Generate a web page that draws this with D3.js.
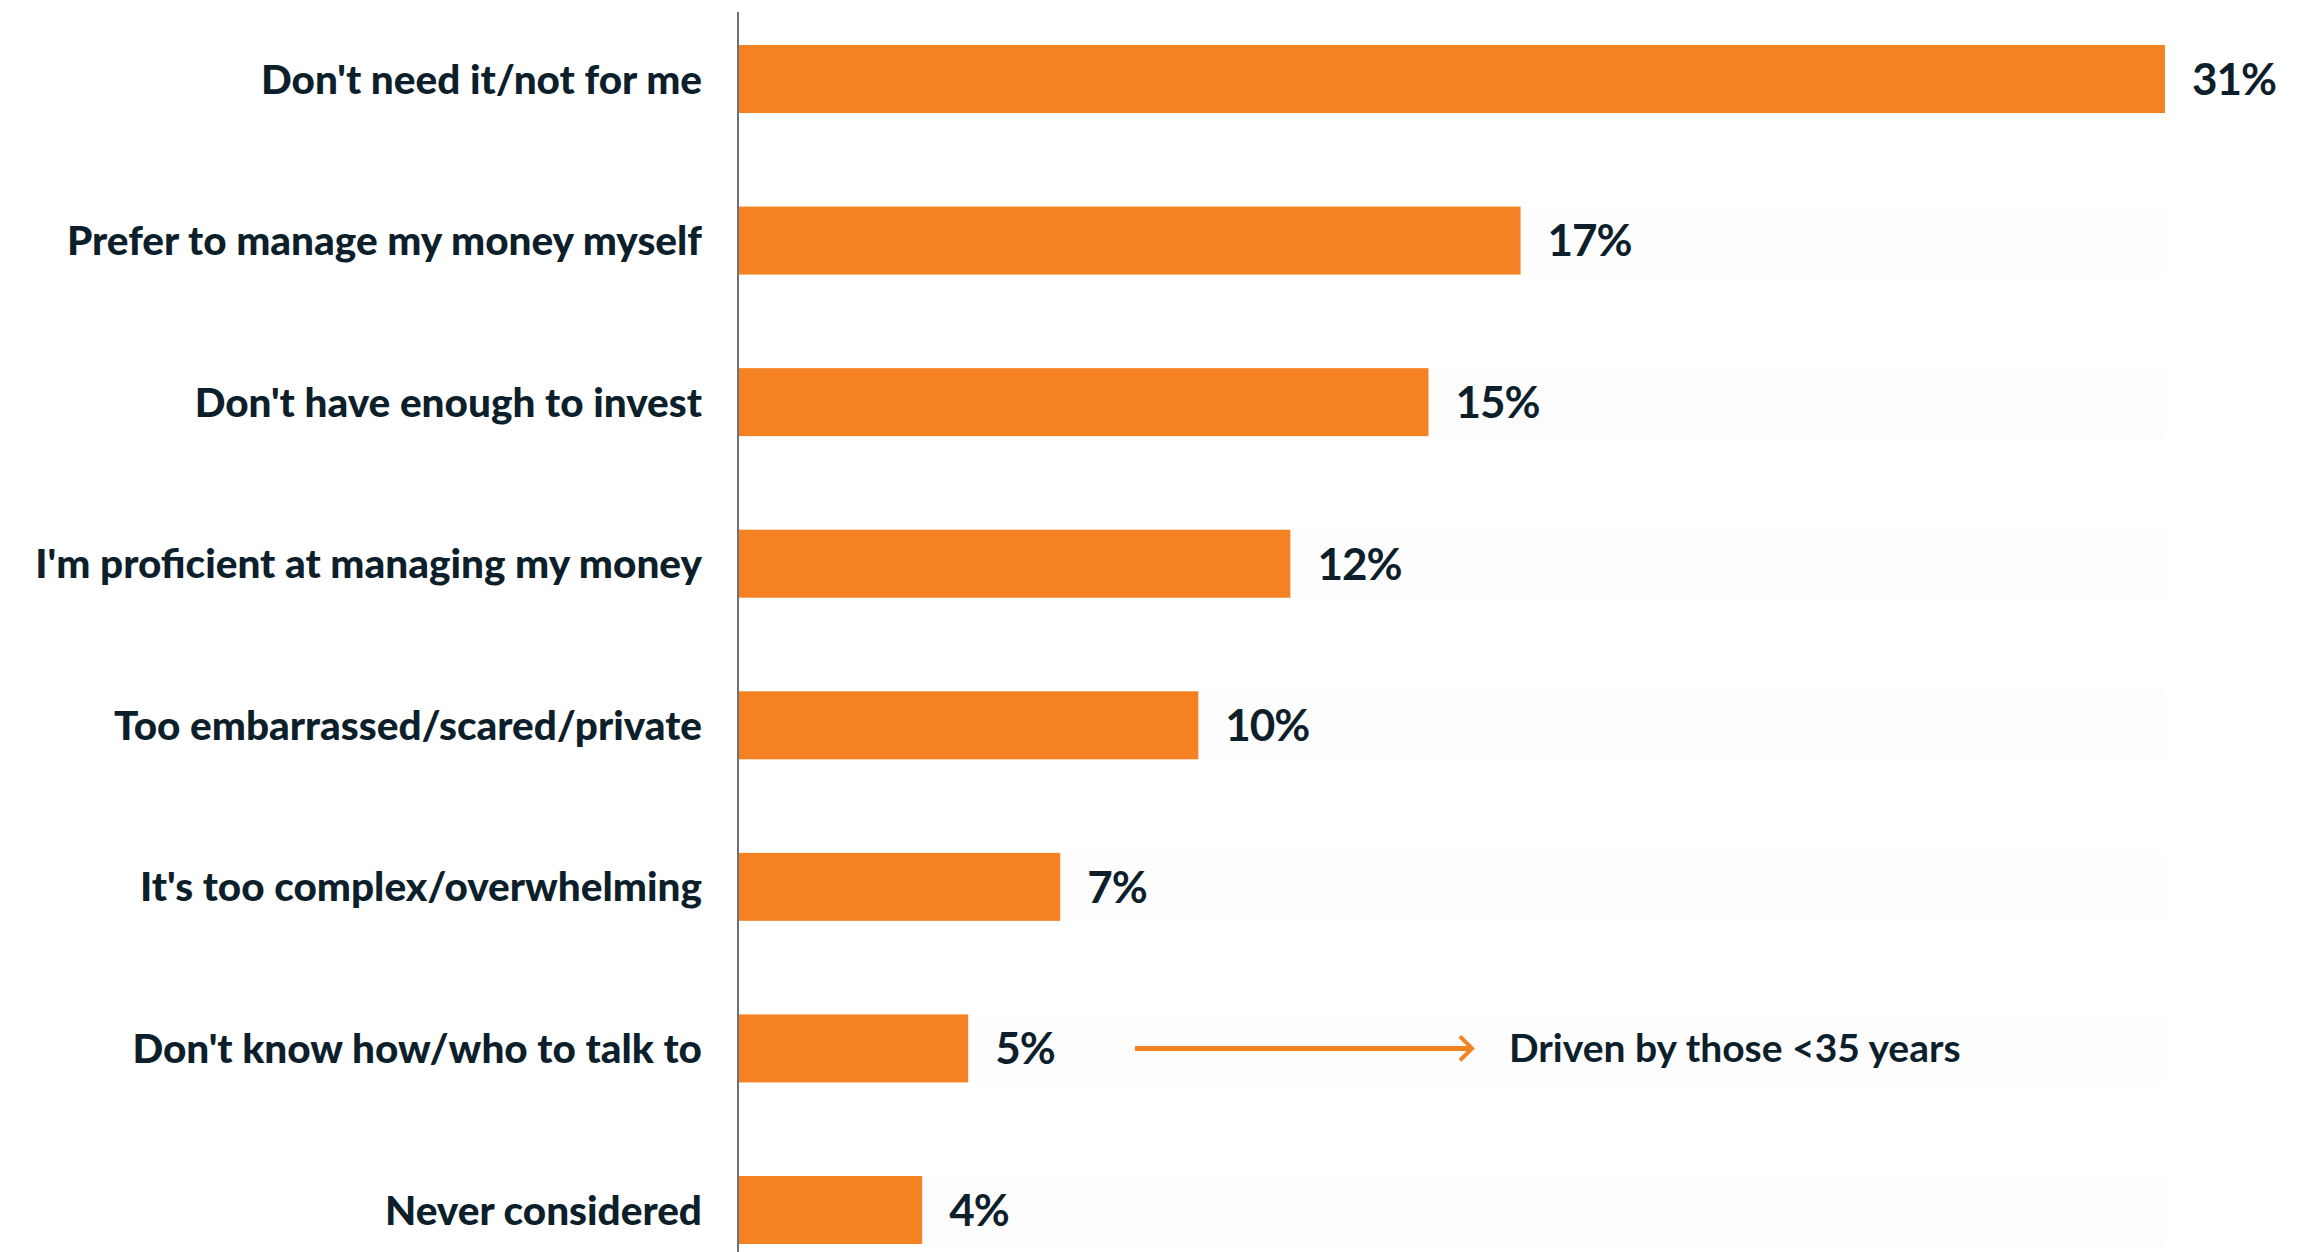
<!DOCTYPE html>
<html>
<head>
<meta charset="utf-8">
<script src="https://cdn.jsdelivr.net/npm/d3@7"></script>
<style>
  html, body { margin: 0; padding: 0; background: #ffffff; }
  svg text { font-family: Lato, "Open Sans", sans-serif; }
</style>
</head>
<body>
<div id="chart"></div>
<script>
// Data
const categories = [
  "Don't need it/not for me",
  "Prefer to manage my money myself",
  "Don't have enough to invest",
  "I'm proficient at managing my money",
  "Too embarrassed/scared/private",
  "It's too complex/overwhelming",
  "Don't know how/who to talk to",
  "Never considered"
];
const values = [31, 17, 15, 12, 10, 7, 5, 4];
const noteCategory = "Don't know how/who to talk to";
const noteText = "Driven by those <35 years";

const width = 2302;
const height = 1252;
const axisX = 738;
const barEnd = 2165;
const barH = 68;

const data = categories.map((c, i) => ({ cat: c, value: values[i] }));

const svg = d3.select("#chart")
  .append("svg")
  .attr("width", width)
  .attr("height", height);

// Scales
const xscale = d3.scaleLinear().domain([0, d3.max(values)]).range([axisX, barEnd]);
const yscale = d3.scalePoint().domain(categories).range([79, 1210]);

// background tracks (barely visible)
svg.selectAll("rect.track")
  .data(data)
  .join("rect")
  .attr("class", "track")
  .attr("x", axisX)
  .attr("y", d => yscale(d.cat) - barH / 2)
  .attr("width", barEnd - axisX)
  .attr("height", barH)
  .attr("fill", "#fdfdfd");

// bars
svg.selectAll("rect.bar")
  .data(data)
  .join("rect")
  .attr("class", "bar")
  .attr("x", axisX)
  .attr("y", d => yscale(d.cat) - barH / 2)
  .attr("width", d => xscale(d.value) - axisX)
  .attr("height", barH)
  .attr("fill", "#f48222");

// category labels
svg.selectAll("text.cat")
  .data(data)
  .join("text")
  .attr("class", "cat")
  .attr("x", axisX - 36)
  .attr("y", d => yscale(d.cat))
  .attr("dy", "0.36em")
  .attr("text-anchor", "end")
  .attr("fill", "#0e1f2c")
  .attr("font-size", 40.5)
  .attr("font-weight", 900)
  .text(d => d.cat);

// value labels
svg.selectAll("text.val")
  .data(data)
  .join("text")
  .attr("class", "val")
  .attr("x", d => xscale(d.value) + 27)
  .attr("y", d => yscale(d.cat))
  .attr("dy", "0.36em")
  .attr("fill", "#0e1f2c")
  .attr("font-size", 44)
  .attr("font-weight", 700)
  .attr("letter-spacing", -1)
  .text(d => d.value + "%");

// axis line
svg.append("line")
  .attr("x1", axisX).attr("x2", axisX)
  .attr("y1", 12).attr("y2", height)
  .attr("stroke", "#6d7279")
  .attr("stroke-width", 2);

// annotation arrow + note
const ny = yscale(noteCategory);
svg.append("line")
  .attr("x1", 1135).attr("x2", 1469)
  .attr("y1", ny).attr("y2", ny)
  .attr("stroke", "#f48222")
  .attr("stroke-width", 5);
svg.append("path")
  .attr("d", `M1460,${ny - 12} L1472,${ny} L1460,${ny + 12}`)
  .attr("fill", "none")
  .attr("stroke", "#f48222")
  .attr("stroke-width", 4);
svg.append("text")
  .attr("x", 1509)
  .attr("y", ny)
  .attr("dy", "0.36em")
  .attr("fill", "#0e1f2c")
  .attr("font-size", 39)
  .attr("font-weight", 700)
  .text(noteText);
</script>
</body>
</html>
